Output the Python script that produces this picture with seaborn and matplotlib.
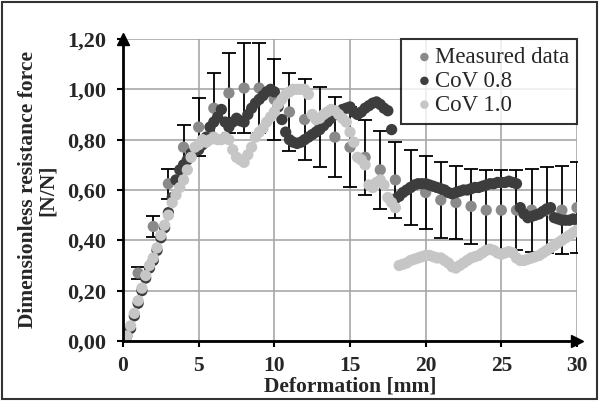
import numpy as np
import pandas as pd
import matplotlib
matplotlib.use("Agg")
import matplotlib.pyplot as plt
import seaborn as sns
from matplotlib.patches import Rectangle

# =======================
# Data
# =======================
meas_x = list(range(0, 31))
meas_y = [0.04, 0.27, 0.455, 0.625, 0.77, 0.85, 0.925, 0.985, 1.005, 1.005,
          0.96, 0.91, 0.88, 0.85, 0.81, 0.77, 0.73, 0.68, 0.64, 0.61,
          0.59, 0.56, 0.55, 0.535, 0.52, 0.52, 0.52, 0.52, 0.52, 0.52, 0.53]
meas_err = [0.0, 0.025, 0.04, 0.06, 0.09, 0.115, 0.14, 0.16, 0.18, 0.18,
            0.16, 0.155, 0.16, 0.16, 0.16, 0.16, 0.15, 0.155, 0.15, 0.15,
            0.145, 0.15, 0.145, 0.15, 0.16, 0.16, 0.16, 0.165, 0.17, 0.175, 0.18]

sim_x = np.arange(0, 30.01, 0.25)
cov08 = [0.00, 0.02, 0.05, 0.10, 0.15, 0.20, 0.25, 0.29, 0.32, 0.36,
         0.41, 0.45, 0.51, 0.57, 0.64, 0.68, 0.70, 0.72, 0.745, 0.755,
         0.76, 0.78, 0.81, 0.85, 0.87, 0.89, 0.92, 0.87, 0.85, 0.87,
         0.885, 0.875, 0.87, 0.90, 0.925, 0.945, 0.96, 0.975, 0.99, 1.00,
         0.99, 0.93, 0.88, 0.83, 0.80, 0.79, 0.785, 0.79, 0.80, 0.81,
         0.82, 0.83, 0.84, 0.855, 0.87, 0.885, 0.90, 0.91, 0.92, 0.925,
         0.93, 0.91, 0.90, 0.91, 0.925, 0.935, 0.945, 0.95, 0.94, 0.925,
         0.915, 0.84, 0.565, 0.575, 0.59, 0.60, 0.61, 0.62, 0.625, 0.625,
         0.625, 0.62, 0.615, 0.61, 0.605, 0.60, 0.59, 0.585, 0.59, 0.595,
         0.60, 0.60, 0.605, 0.61, 0.61, 0.615, 0.62, 0.625, 0.625, 0.63,
         0.63, 0.63, 0.635, 0.63, 0.625, 0.53, 0.505, 0.49, 0.495, 0.50,
         0.505, 0.515, 0.525, 0.53, 0.49, 0.485, 0.48, 0.48, 0.48, 0.485,
         0.48]
cov10 = [0.00, 0.02, 0.06, 0.11, 0.16, 0.21, 0.26, 0.30, 0.33, 0.37,
         0.42, 0.46, 0.50, 0.55, 0.58, 0.61, 0.64, 0.68, 0.73, 0.77,
         0.78, 0.80, 0.79, 0.80, 0.81, 0.80, 0.80, 0.81, 0.80, 0.76,
         0.73, 0.72, 0.71, 0.74, 0.77, 0.81, 0.83, 0.845, 0.87, 0.89,
         0.91, 0.94, 0.96, 0.98, 0.99, 1.00, 1.00, 1.00, 1.00, 0.98,
         0.90, 0.88, 0.885, 0.90, 0.91, 0.92, 0.915, 0.90, 0.885, 0.87,
         0.83, 0.79, 0.73, 0.72, 0.70, 0.62, 0.61, 0.63, 0.64, 0.62,
         0.57, 0.55, 0.53, 0.30, 0.305, 0.31, 0.32, 0.325, 0.33, 0.335,
         0.34, 0.34, 0.335, 0.33, 0.33, 0.32, 0.31, 0.295, 0.29, 0.30,
         0.31, 0.32, 0.33, 0.335, 0.34, 0.35, 0.36, 0.365, 0.36, 0.35,
         0.345, 0.35, 0.355, 0.35, 0.33, 0.32, 0.32, 0.325, 0.33, 0.335,
         0.34, 0.35, 0.36, 0.37, 0.38, 0.39, 0.40, 0.41, 0.42, 0.43,
         0.44]

x_ticks = [0, 5, 10, 15, 20, 25, 30]
y_ticks = [0.0, 0.2, 0.4, 0.6, 0.8, 1.0, 1.2]
y_tick_labels = ["0,00", "0,20", "0,40", "0,60", "0,80", "1,00", "1,20"]

meas_df = pd.DataFrame({"x": meas_x, "y": meas_y, "err": meas_err})
sim_df = pd.DataFrame({"x": sim_x, "cov08": cov08, "cov10": cov10})

# =======================
# Style
# =======================
sns.set_theme(style="white")
plt.rcParams["font.family"] = ["Liberation Serif", "DejaVu Serif"]

C_MEAS = "#8a8a8a"
C_08 = "#3d3d3d"
C_10 = "#c6c6c6"
MS = 66

fig = plt.figure(figsize=(5.99, 4.01), dpi=100)
ax = fig.add_axes([123 / 599, 1 - 341 / 401, (577 - 123) / 599, (341 - 39) / 401])

# grid
ax.set_xlim(0, 30)
ax.set_ylim(0, 1.2)
ax.set_xticks(x_ticks)
ax.set_yticks(y_ticks)
ax.set_yticklabels(y_tick_labels)
ax.grid(True, color="#a8a8a8", lw=1.2, zorder=0)
ax.set_axisbelow(True)

# error bars of the measurement
ax.errorbar(meas_df["x"], meas_df["y"], yerr=meas_df["err"], fmt="none",
            ecolor="black", elinewidth=1.3, capsize=5, capthick=1.3, zorder=2)

sns.scatterplot(data=meas_df, x="x", y="y", color=C_MEAS, s=MS, edgecolor="none",
                label="Measured data", ax=ax, zorder=3)
sns.scatterplot(data=sim_df, x="x", y="cov08", color=C_08, s=MS, edgecolor="none",
                label="CoV 0.8", ax=ax, zorder=4)
sns.scatterplot(data=sim_df, x="x", y="cov10", color=C_10, s=MS, edgecolor="none",
                label="CoV 1.0", ax=ax, zorder=5)

# spines
for side in ["top", "right"]:
    ax.spines[side].set_visible(False)
for side in ["left", "bottom"]:
    ax.spines[side].set_color("black")
    ax.spines[side].set_linewidth(2)
    ax.spines[side].set_zorder(6)
ax.plot(1, 0, ">", color="black", ms=9, transform=ax.get_yaxis_transform(),
        clip_on=False, zorder=7)
ax.plot(0, 1, "^", color="black", ms=9, transform=ax.get_xaxis_transform(),
        clip_on=False, zorder=7)

ax.tick_params(axis="y", direction="out", length=4, width=1.5, color="black",
               labelsize=16, pad=8, left=True)
ax.tick_params(axis="x", direction="out", length=4, width=1.5, color="black",
               labelsize=15.5, pad=7, bottom=True)
for lab in ax.get_xticklabels() + ax.get_yticklabels():
    lab.set_fontweight("bold")

ax.set_xlabel("Deformation [mm]", fontsize=15.5, fontweight="bold", labelpad=0)
ax.set_ylabel("Dimensionless resistance force\n[N/N]", fontsize=15.5,
              fontweight="bold", labelpad=7, linespacing=0.95)

leg = ax.legend(loc="upper right", bbox_to_anchor=(1.0, 1.0), borderaxespad=0,
                fontsize=16.5, frameon=True, fancybox=False, markerscale=0.75,
                handletextpad=-0.2, handlelength=1.3, labelspacing=0.12,
                borderpad=0.35)
leg.get_frame().set_edgecolor("black")
leg.get_frame().set_linewidth(1.5)
leg.set_zorder(10)

# outer frame of the picture
fig.patches.append(Rectangle((0.004, 0.004), 0.992, 0.99, transform=fig.transFigure,
                             fill=False, edgecolor="#333333", lw=1.5))

fig.savefig("out.png", dpi=100)
